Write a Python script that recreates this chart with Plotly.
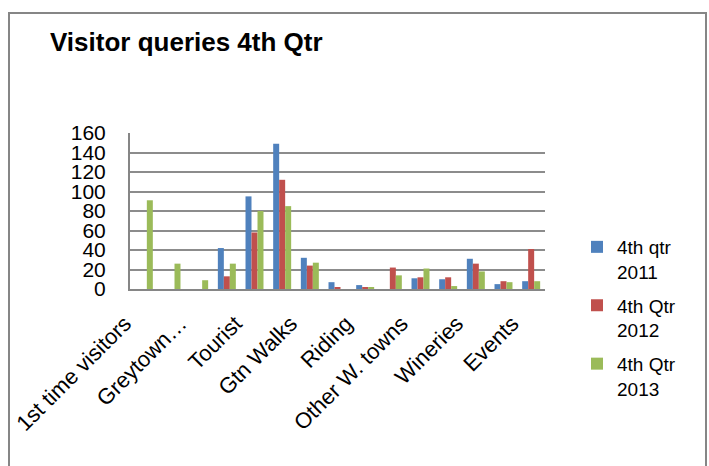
import plotly.graph_objects as go

# Query counts per category, 15 categories (labels shown on every other one)
category_index = list(range(15))
tick_labels = ["1st time visitors", "Greytown…", "Tourist", "Gtn Walks",
               "Riding", "Other W. towns", "Wineries", "Events"]
q4_2011 = [0, 0, 0, 42, 95, 149, 32, 7, 4, 0, 11, 10, 31, 5, 8]
q4_2012 = [0, 0, 0, 13, 58, 112, 24, 2, 2, 22, 12, 12, 26, 8, 41]
q4_2013 = [91, 26, 9, 26, 80, 85, 27, 0, 2, 14, 21, 3, 18, 7, 8]

series_names = ["4th qtr<br>2011", "4th Qtr<br>2012", "4th Qtr<br>2013"]
series_values = [q4_2011, q4_2012, q4_2013]
colors = ["#4F81BD", "#C0504D", "#9BBB59"]

FONT = "Liberation Sans, Arial, sans-serif"

fig = go.Figure()
for i, (name, vals, col) in enumerate(zip(series_names, series_values, colors)):
    fig.add_trace(go.Bar(x=category_index, y=vals, name=name,
                         legendgroup=f"g{i}",
                         marker=dict(color=col, line=dict(width=0))))

# plot area in pixels: x 130..545, y 133..289
L, R, T, B = 130, 545, 133, 289
W, H = 709, 466
pw, ph = R - L, B - T

def px_x(p):
    return (p - L) / pw

def px_y(p):
    return (B - p) / ph

fig.update_layout(
    width=W, height=H,
    margin=dict(l=L, r=W - R, t=T, b=H - B, autoexpand=False),
    paper_bgcolor="white", plot_bgcolor="white",
    barmode="group", bargap=0.35, bargroupgap=0,
    font=dict(family=FONT, color="#000000"),
    title=dict(text="<b>Visitor queries 4th Qtr</b>",
               font=dict(family=FONT, size=26, color="#000000"),
               x=50 / W, xanchor="left", y=1 - 42 / H, yanchor="middle"),
    legend=dict(x=px_x(577), xanchor="left", y=px_y(228), yanchor="top",
                font=dict(family=FONT, size=19, color="#000000"),
                valign="top", bgcolor="rgba(0,0,0,0)",
                traceorder="grouped", tracegroupgap=6, maxheight=400),
    xaxis=dict(range=[-0.5, 14.5], tickvals=category_index[::2],
               ticktext=tick_labels, tickangle=-45, automargin=False,
               tickfont=dict(family=FONT, size=22),
               ticklabelshift=-19, ticklabelstandoff=11,
               showgrid=False, zeroline=False, showline=True,
               linecolor="#868686", linewidth=2, ticks=""),
    yaxis=dict(range=[0, 160], dtick=20, tickfont=dict(family=FONT, size=21),
               automargin=False,
               showgrid=True, gridcolor="#8C8C8C", gridwidth=1.5,
               zeroline=False, showline=True, linecolor="#868686",
               linewidth=2, ticks="", ticklabelstandoff=18),
    shapes=[dict(type="rect", xref="paper", yref="paper",
                 x0=px_x(9), x1=px_x(706), y0=px_y(475), y1=px_y(13),
                 line=dict(color="#868686", width=2), fillcolor="rgba(0,0,0,0)",
                 layer="below")],
)

fig.write_html("out.html")
